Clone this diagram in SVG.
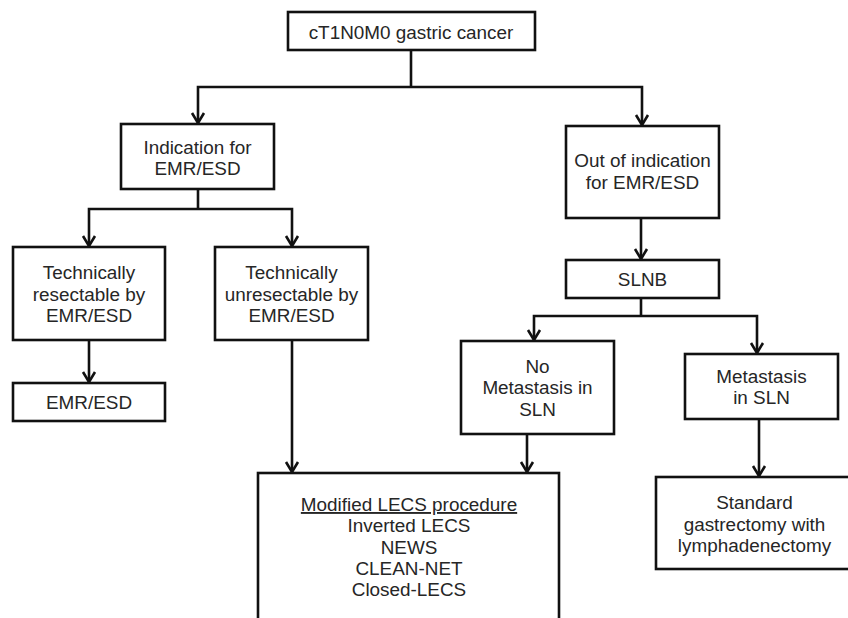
<svg xmlns="http://www.w3.org/2000/svg" width="848" height="618" viewBox="0 0 848 618">
<style>
.box{fill:#fff;stroke:#111;stroke-width:2.6}
.t{font-family:"Liberation Sans",Arial,Helvetica,sans-serif;font-size:18.9px;fill:#262626;text-anchor:middle}
.c{fill:none;stroke:#111;stroke-width:2.6}
</style>
<defs>
<marker id="ah" viewBox="-12 -8 14 16" markerWidth="14" markerHeight="16" refX="0" refY="0" orient="auto" markerUnits="userSpaceOnUse">
<path d="M-10,-6 L0,0 L-10,6" fill="none" stroke="#111" stroke-width="2.6"/>
</marker>
</defs>
<rect width="848" height="618" fill="#fff"/>
<g id="connectors">
<path class="c" d="M411,50 V87"/>
<path class="c" d="M411,87 H198 V123" marker-end="url(#ah)"/>
<path class="c" d="M411,87 H642 V125" marker-end="url(#ah)"/>
<path class="c" d="M198,189 V209"/>
<path class="c" d="M198,209 H89 V246" marker-end="url(#ah)"/>
<path class="c" d="M198,209 H292 V246" marker-end="url(#ah)"/>
<path class="c" d="M89,340 V382" marker-end="url(#ah)"/>
<path class="c" d="M292,340 V472" marker-end="url(#ah)"/>
<path class="c" d="M641,218 V259" marker-end="url(#ah)"/>
<path class="c" d="M641,298 V316"/>
<path class="c" d="M641,316 H534 V340" marker-end="url(#ah)"/>
<path class="c" d="M641,316 H757 V353" marker-end="url(#ah)"/>
<path class="c" d="M527,434 V472" marker-end="url(#ah)"/>
<path class="c" d="M759,419 V476" marker-end="url(#ah)"/>
</g>
<g id="start">
<rect class="box" x="288" y="12" width="247" height="38"/>
<text class="t" x="411" y="39">cT1N0M0 gastric cancer</text>
</g>
<g id="indication">
<rect class="box" x="121" y="124" width="153" height="65"/>
<text class="t" x="197.5" y="154">Indication for</text>
<text class="t" x="197.5" y="175">EMR/ESD</text>
</g>
<g id="out-indication">
<rect class="box" x="566" y="126" width="153" height="92"/>
<text class="t" x="642.5" y="167">Out of indication</text>
<text class="t" x="642.5" y="189">for EMR/ESD</text>
</g>
<g id="resectable">
<rect class="box" x="13" y="247" width="152" height="93"/>
<text class="t" x="89" y="279">Technically</text>
<text class="t" x="89" y="300.5">resectable by</text>
<text class="t" x="89" y="322">EMR/ESD</text>
</g>
<g id="unresectable">
<rect class="box" x="215" y="247" width="153" height="93"/>
<text class="t" x="291.5" y="279">Technically</text>
<text class="t" x="291.5" y="300.5">unresectable by</text>
<text class="t" x="291.5" y="322">EMR/ESD</text>
</g>
<g id="emr-esd">
<rect class="box" x="13" y="383" width="152" height="38"/>
<text class="t" x="89" y="409">EMR/ESD</text>
</g>
<g id="slnb">
<rect class="box" x="566" y="260" width="153" height="38"/>
<text class="t" x="642.5" y="285.5">SLNB</text>
</g>
<g id="no-metastasis">
<rect class="box" x="461" y="341" width="153" height="93"/>
<text class="t" x="537.5" y="372.5">No</text>
<text class="t" x="537.5" y="394">Metastasis in</text>
<text class="t" x="537.5" y="415.5">SLN</text>
</g>
<g id="metastasis">
<rect class="box" x="685" y="354" width="153" height="65"/>
<text class="t" x="761.5" y="382.5">Metastasis</text>
<text class="t" x="761.5" y="404">in SLN</text>
</g>
<g id="lecs">
<rect class="box" x="258" y="473" width="301" height="160"/>
<text class="t" x="409" y="511" text-decoration="underline">Modified LECS procedure</text>
<text class="t" x="409" y="532.3">Inverted LECS</text>
<text class="t" x="409" y="553.6">NEWS</text>
<text class="t" x="409" y="575">CLEAN-NET</text>
<text class="t" x="409" y="596.3">Closed-LECS</text>
</g>
<g id="standard">
<rect class="box" x="656" y="477" width="197" height="92"/>
<text class="t" x="754.5" y="509.3">Standard</text>
<text class="t" x="754.5" y="530.7">gastrectomy with</text>
<text class="t" x="754.5" y="552">lymphadenectomy</text>
</g>
</svg>
